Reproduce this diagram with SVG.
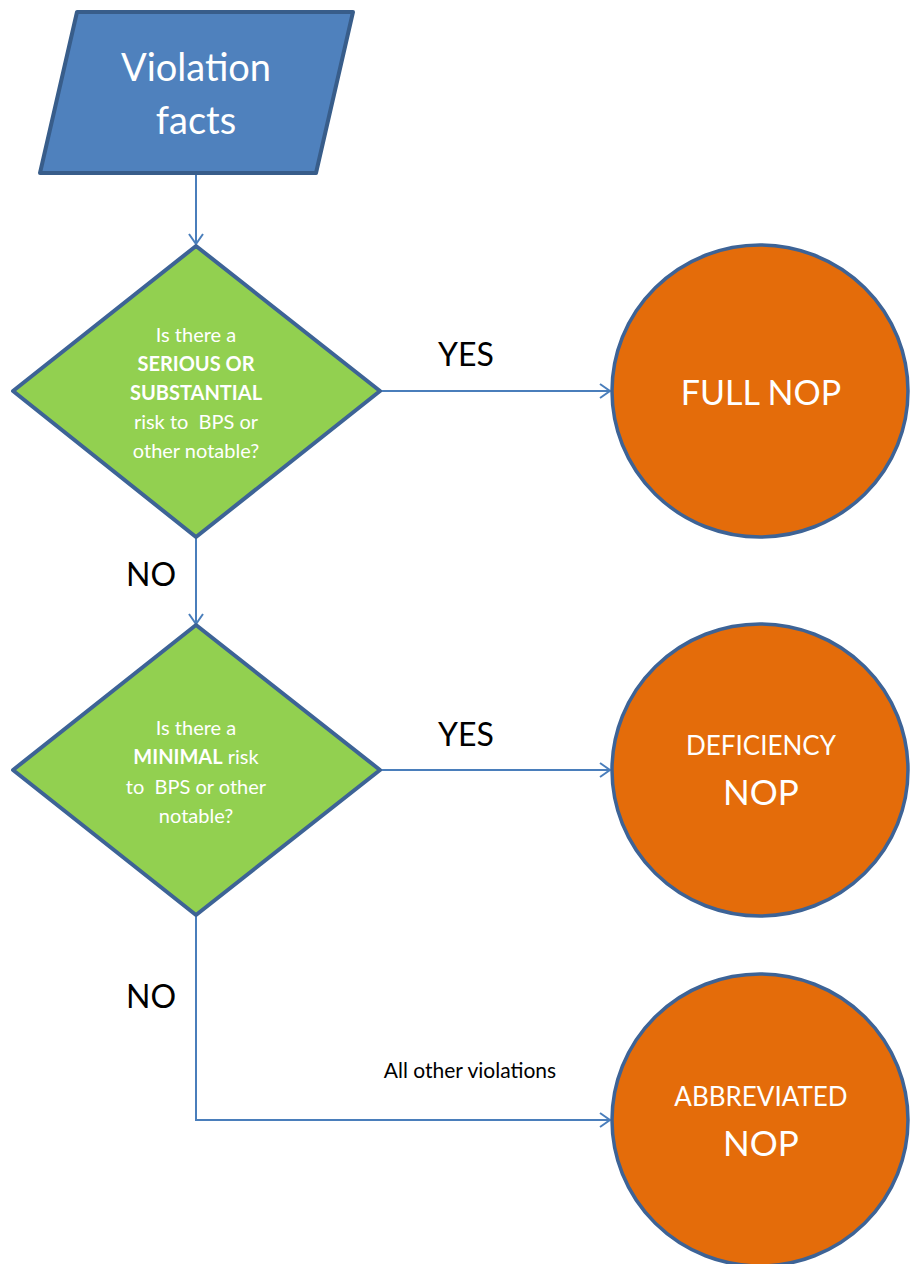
<svg xmlns="http://www.w3.org/2000/svg" width="912" height="1264" viewBox="0 0 912 1264">
<style>
text{font-family:Lato,"Open Sans","Liberation Sans",sans-serif;text-anchor:middle}
.w{fill:#ffffff}
.k{fill:#000000}
.q{font-size:20px;white-space:pre}
.dia{fill:#92D050;stroke:#3D6396;stroke-width:4;stroke-linejoin:round}
.cir{fill:#E46C0A;stroke:#3D6396;stroke-width:3.5}
.con{fill:none;stroke:#4A7EBB;stroke-width:2}
</style>
<defs>
<marker id="arr" viewBox="0 0 12 16" refX="11" refY="8" markerWidth="12" markerHeight="16" markerUnits="userSpaceOnUse" orient="auto">
<path d="M1,1 L11,8 L1,15" fill="none" stroke="#4A7EBB" stroke-width="2"/>
</marker>
</defs>
<rect width="912" height="1264" fill="#ffffff"/>
<g id="connectors">
<path class="con" d="M196,173 V244" marker-end="url(#arr)"/>
<path class="con" d="M380,391 H610" marker-end="url(#arr)"/>
<path class="con" d="M196,537 V624" marker-end="url(#arr)"/>
<path class="con" d="M380,770 H610" marker-end="url(#arr)"/>
<path class="con" d="M196,915 V1120 H610" marker-end="url(#arr)"/>
</g>
<g id="labels">
<text class="k" x="466" y="366" font-size="32">YES</text>
<text class="k" x="151" y="586" font-size="32">NO</text>
<text class="k" x="466" y="746" font-size="32">YES</text>
<text class="k" x="151" y="1008" font-size="32">NO</text>
<text class="k" x="470" y="1078" font-size="21">All other violations</text>
</g>
<g id="violation-facts">
<polygon points="77,12 353,12 316,173 40,173" fill="#4F81BD" stroke="#385D8A" stroke-width="4" stroke-linejoin="round"/>
<text class="w" x="196" y="81" font-size="38">Violation</text>
<text class="w" x="196" y="134" font-size="38">facts</text>
</g>
<g id="decision-serious">
<polygon class="dia" points="196,246 380,391 196,537 13,391"/>
<text class="w q" x="196" y="342">Is there a</text>
<text class="w q" x="196" y="371" font-weight="bold">SERIOUS OR</text>
<text class="w q" x="196" y="400" font-weight="bold">SUBSTANTIAL</text>
<text class="w q" x="196" y="429">risk to  BPS or</text>
<text class="w q" x="196" y="458">other notable?</text>
</g>
<g id="decision-minimal">
<polygon class="dia" points="196,625 380,770 196,915 13,770"/>
<text class="w q" x="196" y="735">Is there a</text>
<text class="w q" x="196" y="764"><tspan font-weight="bold">MINIMAL</tspan> risk</text>
<text class="w q" x="196" y="794">to  BPS or other</text>
<text class="w q" x="196" y="823">notable?</text>
</g>
<g id="full-nop">
<ellipse class="cir" cx="760" cy="391" rx="148" ry="146"/>
<text class="w" x="761" y="405" font-size="34">FULL NOP</text>
</g>
<g id="deficiency-nop">
<ellipse class="cir" cx="760" cy="770" rx="148" ry="146"/>
<text class="w" x="761" y="755" font-size="26">DEFICIENCY</text>
<text class="w" x="761" y="805" font-size="35">NOP</text>
</g>
<g id="abbreviated-nop">
<ellipse class="cir" cx="760" cy="1120" rx="148" ry="146"/>
<text class="w" x="761" y="1106" font-size="26">ABBREVIATED</text>
<text class="w" x="761" y="1156" font-size="35">NOP</text>
</g>
</svg>
